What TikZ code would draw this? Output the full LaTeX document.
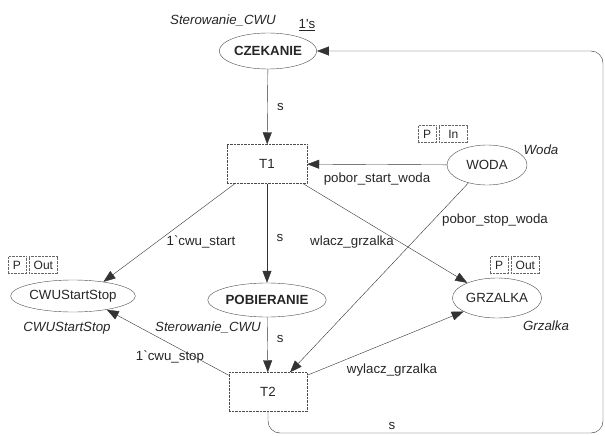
\documentclass[tikz,border=0pt]{standalone}
\usepackage{fontspec}
\setmainfont{Liberation Sans}
\usetikzlibrary{positioning,arrows.meta,shapes.geometric,calc}

\begin{document}
\begin{tikzpicture}[
        x=1pt, y=-1pt,
        every node/.style={font=\fontsize{13.3}{15}\selectfont, text=black!85},
        place/.style={ellipse, draw=black!70, thin, inner sep=0.5pt, minimum width=80pt, minimum height=36pt},
        trans/.style={rectangle, draw=black!70, densely dotted, thin, minimum width=80pt, minimum height=39pt},
        tag/.style={rectangle, draw=black!60, densely dotted, inner sep=1.5pt, minimum height=17pt, font=\fontsize{12}{13}\selectfont},
        typ/.style={font=\fontsize{13.3}{15}\selectfont\itshape},
        arr/.style={-{Triangle[length=12pt, width=9pt]}, black!80, thin},
    ]
    \useasboundingbox (0,0) rectangle (605,436);

    % ----- places and transitions -----
    \node[place] (czek) at (268,51) {\textbf{CZEKANIE}};
    \node[trans] (t1) at (267,164) {T1};
    \node[place, minimum height=40pt] (woda) at (487,165) {WODA};
    \node[place, minimum width=123pt, minimum height=32pt] (cwu) at (73,296) {CWUStartStop};
    \node[place, minimum height=34pt] (pob) at (267,300) {\textbf{POBIERANIE}};
    \node[place, minimum height=40pt] (grz) at (497,298) {GRZALKA};
    \node[trans, minimum width=78pt] (t2) at (268,392) {T2};

    % ----- type and marking labels -----
    \node[typ] (czektyp) at (223,20) {Sterowanie\_CWU};
    \node (czekmark) at (307,25) {\underline{1\textquotesingle s}};
    \node[typ] (wodatyp) at (541,150) {Woda};
    \node[typ] (cwutyp) at (67,328) {CWUStartStop};
    \node[typ] (pobtyp) at (208,327) {Sterowanie\_CWU};
    \node[typ] (grztyp) at (546,326) {Grzalka};

    % ----- port tags -----
    \node[tag, minimum width=18pt] (wodap) at (427,134) {P};
    \node[tag, minimum width=28pt, right=3pt of wodap] (wodain) {In};
    \node[tag, minimum width=18pt] (cwup) at (17,265) {P};
    \node[tag, minimum width=28pt, right=3pt of cwup] (cwuout) {Out};
    \node[tag, minimum width=18pt] (grzp) at (499,265) {P};
    \node[tag, minimum width=28pt, right=3pt of grzp] (grzout) {Out};

    % ----- arcs -----
    \draw[arr] (czek) -- node[right=6pt] {s} (t1);
    \draw[arr] (woda) -- node[below=5pt] {pobor\_start\_woda} (t1);
    \draw[arr] (t1) -- node[right=6pt, pos=0.55] {s} (pob);
    \draw[arr] (pob) -- node[right=6pt, pos=0.4] {s} (t2);
    \draw[arr] ([xshift=8pt]t1.south west) -- (cwu.25);
    \draw[arr] ([xshift=-4pt]t1.south east) -- (grz.153);
    \draw[arr] (woda.224) -- ([xshift=22pt]t2.north);
    \draw[arr] ([yshift=-3pt]t2.north east) -- (grz.202);
    \draw[arr] ([yshift=-3pt]t2.north west) -- (cwu.338);

    \node (cwustart) at (201,242) {1\textasciigrave cwu\_start};
    \node (wlacz) at (352,242) {wlacz\_grzalka};
    \node (poborstop) at (495,220) {pobor\_stop\_woda};
    \node (cwustop) at (170,357) {1\textasciigrave cwu\_stop};
    \node (wylacz) at (392,370) {wylacz\_grzalka};

    % return arc T2 -> CZEKANIE
    \coordinate (ret) at (603,433);
    \draw[arr, rounded corners=12pt] (t2.south) |- (ret) |- (czek.east);
    \node (retlbl) at (392,426) {s};

\end{tikzpicture}
\end{document}
